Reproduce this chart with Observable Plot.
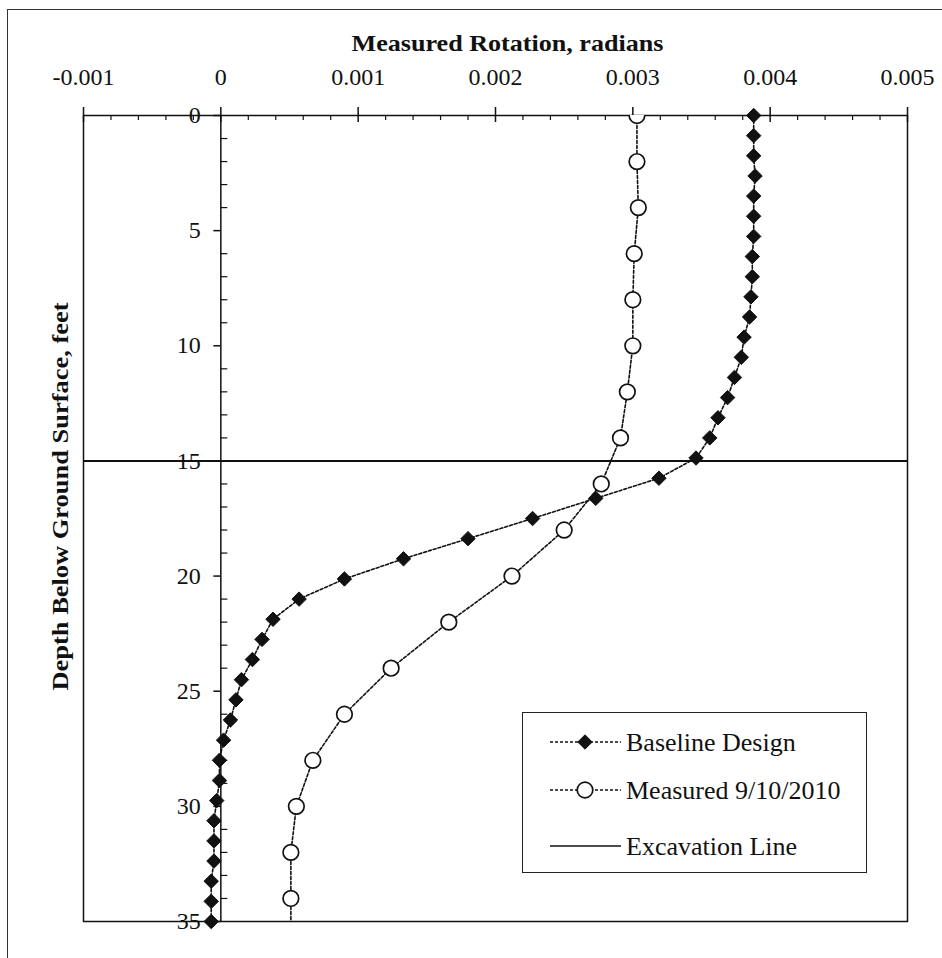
<!DOCTYPE html>
<html><head><meta charset="utf-8">
<script src="https://cdn.jsdelivr.net/npm/d3@7"></script>
<script src="https://cdn.jsdelivr.net/npm/@observablehq/plot@0.6"></script>
<style>
html,body{margin:0;padding:0;background:#fff;overflow:hidden;width:942px;height:958px}
#wrap{position:relative;width:942px;height:958px;overflow:hidden}
#border{position:absolute;left:7px;top:9px;width:1000px;height:1000px;border:1.5px solid #333;pointer-events:none}
#legend{position:absolute;left:522px;top:712px;width:345px;height:161px;border:1.5px solid #222;background:#fff;box-sizing:border-box}
</style></head><body><div id="wrap"><div id="border"></div></div>
<script>
// ---- data ----
const baselineDepth = [0, 0.875, 1.75, 2.625, 3.5, 4.375, 5.25, 6.125, 7, 7.875, 8.75, 9.625, 10.5, 11.375, 12.25, 13.125, 14, 14.875, 15.75, 16.625, 17.5, 18.375, 19.25, 20.125, 21, 21.875, 22.75, 23.625, 24.5, 25.375, 26.25, 27.125, 28, 28.875, 29.75, 30.625, 31.5, 32.375, 33.25, 34.125, 35];
const baselineRotation = [0.00388, 0.00388, 0.00388, 0.00389, 0.00388, 0.00388, 0.00388, 0.00387, 0.00387, 0.00386, 0.00385, 0.00381, 0.00379, 0.00374, 0.00369, 0.00362, 0.00356, 0.00346, 0.00319, 0.00273, 0.00227, 0.00180, 0.00133, 0.00090, 0.00057, 0.00038, 0.00030, 0.00023, 0.00015, 0.00011, 0.00007, 0.00002, -0.00001, -0.00001, -0.00003, -0.00005, -0.00005, -0.00005, -0.00007, -0.00007, -0.00007];
const measuredDepth = [0, 2, 4, 6, 8, 10, 12, 14, 16, 18, 20, 22, 24, 26, 28, 30, 32, 34, 36];
const measuredRotation = [0.00303, 0.00303, 0.00304, 0.00301, 0.00300, 0.00300, 0.00296, 0.00291, 0.00277, 0.00250, 0.00212, 0.00166, 0.00124, 0.00090, 0.00067, 0.00055, 0.00051, 0.00051, 0.00051];
const excavationDepth = [15];
const xTicks = [-0.001, 0, 0.001, 0.002, 0.003, 0.004, 0.005];
const xTickLabels = ["-0.001", "0", "0.001", "0.002", "0.003", "0.004", "0.005"];
const yTicks = [0, 5, 10, 15, 20, 25, 30, 35];
const yTickLabels = ["0", "5", "10", "15", "20", "25", "30", "35"];
const seriesNames = ["Baseline Design", "Measured 9/10/2010", "Excavation Line"];
const xTitle = "Measured Rotation, radians";
const yTitle = "Depth Below Ground Surface, feet";

const xMinor = d3.range(-10, 51, 2).map(k => k / 10000).filter(v => !xTicks.some(t => Math.abs(t - v) < 1e-9));
const yMinor = d3.range(0, 36).filter(v => v % 5 !== 0);

const baseline = baselineDepth.map((d, i) => ({depth: d, rot: baselineRotation[i]}));
const measured = measuredDepth.map((d, i) => ({depth: d, rot: measuredRotation[i]}));

const ink = "#111";
const font = "'Liberation Serif', 'Times New Roman', serif";
const rDiamond = 6.5, rCircle = 7.8;

const chart = Plot.plot({
  width: 942, height: 958,
  marginLeft: 83, marginRight: 35, marginTop: 115, marginBottom: 37,
  style: {fontFamily: font, background: "white", color: ink},
  x: {domain: [-0.001, 0.005], axis: null},
  y: {domain: [0, 35], reverse: true, axis: null},
  marks: [
    Plot.frame({stroke: ink, strokeWidth: 1.5}),
    Plot.ruleY(excavationDepth, {stroke: ink, strokeWidth: 2}),
    Plot.ruleX([0], {stroke: ink, strokeWidth: 1.5}),
    Plot.ruleX(xTicks, {x: d => d, y1: 0, y2: 0, insetTop: -8, insetBottom: -7, stroke: ink, strokeWidth: 1.5}),
    Plot.ruleX(xMinor, {x: d => d, y1: 0, y2: 0, insetBottom: -5, stroke: ink, strokeWidth: 1.2}),
    Plot.ruleY(yTicks, {y: d => d, x1: 0, x2: 0, insetLeft: -7, stroke: ink, strokeWidth: 1.5}),
    Plot.ruleY(yMinor, {y: d => d, x1: 0, x2: 0, insetRight: -7, stroke: ink, strokeWidth: 1.2}),
    Plot.line(baseline, {x: "rot", y: "depth", stroke: ink, strokeWidth: 1.6, strokeDasharray: "3,2"}),
    Plot.line(measured, {x: "rot", y: "depth", stroke: ink, strokeWidth: 1.6, strokeDasharray: "3,2", clip: true}),
    Plot.dot(baseline, {x: "rot", y: "depth", symbol: "diamond2", r: rDiamond, fill: ink, stroke: ink, strokeWidth: 1}),
    Plot.dot(measured, {x: "rot", y: "depth", symbol: "circle", r: rCircle, fill: "white", stroke: ink, strokeWidth: 1.7, clip: true}),
    Plot.text(xTicks, {x: d => d, text: (d, i) => xTickLabels[i], frameAnchor: "top", lineAnchor: "middle", dy: -38, fontSize: 24, fill: ink}),
    Plot.text(yTicks, {x: 0, y: d => d, text: (d, i) => yTickLabels[i], textAnchor: "end", lineAnchor: "middle", dx: -20, fontSize: 24, fill: ink}),
    Plot.text([xTitle], {frameAnchor: "top", lineAnchor: "middle", textAnchor: "middle", dx: 12, dy: -72, fontSize: 24, fontWeight: "bold", fill: ink}),
    Plot.text([yTitle], {frameAnchor: "left", rotate: -90, textAnchor: "middle", lineAnchor: "middle", dx: -23, dy: -22, fontSize: 24, fontWeight: "bold", fill: ink})
  ]
});
document.getElementById("wrap").prepend(chart);
// stretch the axis titles to the reference's wider lettering
d3.select(chart).selectAll("text").each(function () {
  const t = this.textContent;
  if (t === xTitle) d3.select(this).attr("textLength", 312).attr("lengthAdjust", "spacingAndGlyphs");
  if (t === yTitle) d3.select(this).attr("textLength", 388).attr("lengthAdjust", "spacingAndGlyphs");
});

// ---- legend ----
const legend = document.createElement("div");
legend.id = "legend";
document.getElementById("wrap").appendChild(legend);
const lsvg = d3.select(legend).append("svg").attr("width", 342).attr("height", 158).style("display", "block");
const rowsY = [29, 77, 133];
const sym = [d3.symbol(d3.symbolDiamond2, Math.PI * rDiamond * rDiamond)(), d3.symbol(d3.symbolCircle, Math.PI * rCircle * rCircle)(), null];
seriesNames.forEach((name, i) => {
  const g = lsvg.append("g").attr("transform", `translate(0,${rowsY[i]})`);
  g.append("line").attr("x1", 27).attr("x2", 98).attr("stroke", ink).attr("stroke-width", i === 2 ? 1.6 : 1.3)
    .attr("stroke-dasharray", i === 2 ? null : "3,2");
  if (sym[i]) g.append("path").attr("d", sym[i]).attr("transform", "translate(62,0)")
    .attr("fill", i === 0 ? ink : "white").attr("stroke", ink).attr("stroke-width", i === 0 ? 1 : 1.7);
  g.append("text").attr("x", 103).attr("dy", "0.33em").attr("font-family", font).attr("font-size", 26).attr("fill", ink).text(name);
});
</script>
</body></html>
